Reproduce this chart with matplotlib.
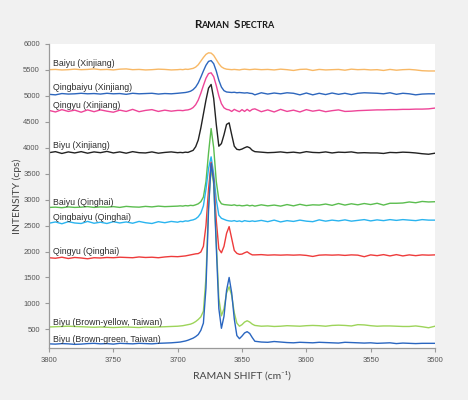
import numpy as np
import matplotlib
matplotlib.use("Agg")
import matplotlib.pyplot as plt
from matplotlib.offsetbox import TextArea, HPacker, AnchoredOffsetbox


# ------------------ DATA ------------------ #

# wavenumber grid: 5 cm-1 steps on the flat parts, 2 cm-1 steps around the OH peaks
shift = np.concatenate([np.arange(3800, 3699, -5), np.arange(3698, 3641, -2), np.arange(3640, 3499, -5)])

baiyu_xj = [5505, 5510, 5500, 5505, 5515, 5505, 5510, 5520, 5505, 5510, 5500, 5515, 5520, 5505, 5510, 5500, 5505, 5515, 5510, 5500, 5505,
            5510, 5505, 5515, 5510, 5520, 5530, 5555, 5600, 5670, 5740, 5800, 5830, 5825, 5780, 5700, 5620, 5560, 5530, 5515, 5510, 5505, 5510, 5505, 5500, 5510, 5515, 5510, 5505, 5510,
            5515, 5505, 5510, 5500, 5515, 5505, 5490, 5510, 5515, 5490, 5510, 5500, 5505, 5510, 5495, 5515, 5505, 5510, 5500, 5505, 5490, 5510, 5495, 5505, 5510, 5500, 5485, 5480, 5480]

qingbaiyu_xj = [5030, 5020, 5045, 5035, 5040, 5050, 5040, 5045, 5035, 5050, 5040, 5045, 5030, 5050, 5040, 5045, 5050, 5035, 5045, 5040, 5050,
                5055, 5060, 5065, 5075, 5090, 5120, 5170, 5250, 5360, 5480, 5590, 5665, 5680, 5620, 5480, 5300, 5170, 5100, 5075, 5070, 5065, 5070, 5060, 5065, 5060, 5055, 5060, 5050, 5045,
                5020, 5060, 5035, 5055, 5040, 5060, 5050, 5020, 5055, 5020, 5050, 5025, 5055, 5030, 5050, 5025, 5050, 5060, 5055, 5050, 5040, 5060, 5030, 5050, 5040, 5020, 5035, 5040, 5040]

qingyu_xj = [4720, 4690, 4735, 4700, 4725, 4685, 4730, 4695, 4730, 4705, 4685, 4725, 4700, 4740, 4695, 4720, 4735, 4700, 4725, 4705, 4720,
             4720, 4715, 4725, 4730, 4745, 4775, 4830, 4920, 5050, 5200, 5340, 5430, 5445, 5370, 5200, 5000, 4850, 4770, 4740, 4730, 4700, 4740, 4715, 4695, 4735, 4700, 4740, 4705, 4740,
             4750, 4695, 4730, 4690, 4740, 4700, 4725, 4690, 4735, 4705, 4725, 4695, 4715, 4730, 4700, 4705, 4715, 4720, 4725, 4730, 4730, 4735, 4735, 4740, 4740, 4745, 4745, 4750, 4765]

biyu_xj = [3905, 3925, 3890, 3920, 3900, 3925, 3895, 3920, 3905, 3930, 3900, 3920, 3895, 3925, 3905, 3900, 3920, 3895, 3910, 3920, 3905,
           3910, 3905, 3915, 3910, 3930, 3950, 4020, 4150, 4380, 4650, 4920, 5150, 5220, 4950, 4450, 4030, 4080, 4250, 4450, 4480, 4250, 4030, 3970, 3960, 3975, 4000, 4020, 4000, 3950,
           3925, 3915, 3905, 3910, 3920, 3905, 3915, 3900, 3925, 3910, 3905, 3920, 3900, 3915, 3910, 3920, 3900, 3905, 3900, 3900, 3890, 3910, 3905, 3915, 3910, 3900, 3885, 3875, 3895]

baiyu_qh = [2850, 2855, 2845, 2860, 2850, 2855, 2865, 2850, 2860, 2855, 2865, 2850, 2870, 2860, 2855, 2870, 2860, 2875, 2865, 2870, 2875,
            2880, 2875, 2885, 2880, 2890, 2885, 2900, 2920, 2960, 3050, 3350, 3900, 4370, 4000, 3350, 3000, 2920, 2905, 2900, 2895, 2890, 2900, 2885, 2890, 2880, 2885, 2895, 2880, 2890,
            2875, 2900, 2880, 2895, 2875, 2905, 2880, 2910, 2885, 2900, 2895, 2915, 2890, 2925, 2895, 2920, 2900, 2925, 2905, 2930, 2895, 2930, 2930, 2935, 2955, 2940, 2965, 2955, 2960]

qingbaiyu_qh = [2545, 2570, 2535, 2575, 2550, 2540, 2580, 2545, 2565, 2540, 2575, 2550, 2570, 2545, 2580, 2555, 2540, 2575, 2555, 2580, 2565,
                2580, 2575, 2590, 2585, 2600, 2610, 2630, 2670, 2740, 2880, 3200, 3600, 3825, 3500, 3000, 2700, 2640, 2620, 2600, 2590, 2585, 2595, 2580, 2590, 2575, 2595, 2585, 2580, 2590,
                2580, 2600, 2575, 2605, 2570, 2595, 2580, 2605, 2585, 2575, 2610, 2585, 2605, 2590, 2610, 2585, 2600, 2615, 2590, 2610, 2595, 2615, 2600, 2615, 2605, 2595, 2615, 2605, 2605]

qingyu_qh = [1880, 1870, 1890, 1865, 1885, 1875, 1860, 1880, 1875, 1885, 1880, 1890, 1885, 1880, 1895, 1885, 1890, 1880, 1895, 1905, 1900,
             1905, 1910, 1915, 1925, 1935, 1945, 1955, 1960, 1990, 2100, 2500, 3200, 3720, 3400, 2600, 2050, 1975, 2100, 2350, 2480, 2250, 2020, 1965, 1945, 1950, 1975, 1995, 1960, 1935,
             1935, 1940, 1930, 1935, 1930, 1935, 1930, 1935, 1925, 1905, 1930, 1935, 1930, 1935, 1925, 1935, 1930, 1900, 1935, 1920, 1940, 1915, 1940, 1915, 1935, 1920, 1935, 1930, 1935]

biyu_by_tw = [545, 550, 555, 560, 555, 550, 545, 540, 545, 540, 535, 540, 545, 540, 535, 545, 540, 545, 550, 555, 560,
              565, 570, 580, 590, 600, 620, 650, 690, 740, 850, 1500, 2900, 3600, 3300, 2200, 1100, 760, 900, 1200, 1320, 1150, 820, 620, 560, 590, 640, 665, 640, 600,
              575, 560, 565, 555, 560, 570, 565, 560, 570, 575, 570, 560, 575, 580, 575, 565, 590, 585, 570, 560, 565, 565, 560, 555, 555, 565, 550, 530, 560]

biyu_bg_tw = [220, 215, 225, 220, 210, 215, 225, 230, 220, 225, 215, 230, 225, 220, 230, 225, 220, 230, 235, 240, 250,
              255, 265, 275, 290, 310, 330, 360, 400, 480, 620, 1300, 2800, 3700, 3350, 2100, 900, 520, 750, 1250, 1500, 1200, 700, 380, 320, 370, 430, 455, 420, 340,
              270, 255, 250, 265, 255, 245, 240, 250, 245, 240, 250, 245, 240, 235, 250, 245, 240, 235, 240, 230, 235, 240, 225, 235, 230, 225, 230, 230, 230]

names = ["Baiyu (Xinjiang)", "Qingbaiyu (Xinjiang)", "Qingyu (Xinjiang)", "Biyu (Xinjiang)",
         "Baiyu (Qinghai)", "Qingbaiyu (Qinghai)", "Qingyu (Qinghai)",
         "Biyu (Brown-yellow, Taiwan)", "Biyu (Brown-green, Taiwan)"]
spectra = [baiyu_xj, qingbaiyu_xj, qingyu_xj, biyu_xj, baiyu_qh, qingbaiyu_qh, qingyu_qh, biyu_by_tw, biyu_bg_tw]
label_y = [5615, 5170, 4824, 4034, 2950, 2660, 1997, 630, 310]

colors = ["#f8b865", "#2d66bd", "#ee4598", "#222222", "#5bbd4f", "#2ab4ef", "#ee3b3b", "#9dd45a", "#2a66c0"]


# ------------------ FIGURE ------------------ #

bg = "#f1f1f1"
fig = plt.figure(figsize=(4.68, 4.0), dpi=100, facecolor=bg)
ax = fig.add_axes([49/468, 1 - 348/400, 386/468, 304/400])
ax.set_facecolor("white")

for name, y, c in zip(names, spectra, colors):
    ax.plot(shift, y, color=c, linewidth=1.0)

for name, ly in zip(names, label_y):
    ax.text(3797, ly, name, fontsize=6.3, color="#2e2e2e", family="Liberation Sans", va="center", ha="left")

ax.set_xlim(3800, 3500)
ax.set_ylim(140, 6000)
ax.set_xticks(np.arange(3800, 3499, -50))
ax.set_yticks(np.arange(500, 6001, 500))

for s in ["top", "right"]:
    ax.spines[s].set_visible(False)
for s in ["left", "bottom"]:
    ax.spines[s].set_color("#9a9a9a")
    ax.spines[s].set_linewidth(0.9)
ax.tick_params(axis="both", colors="#9a9a9a", labelcolor="#555555", labelsize=5.5, length=3, width=0.8)
for lbl in ax.get_xticklabels() + ax.get_yticklabels():
    lbl.set_family("Liberation Sans")

ax.set_xlabel("RAMAN SHIFT (cm⁻¹)", fontsize=7.5, color="#444444", family=["Lato", "DejaVu Sans"], labelpad=5)
ax.set_ylabel("INTENSITY (cps)", fontsize=7.5, color="#444444", family=["Lato", "DejaVu Sans"], labelpad=1)

# small-caps title
def sc_word(big, small):
    kw = dict(fontweight="bold", family="Lato", color="#1a1a1a")
    return HPacker(children=[TextArea(big, textprops=dict(fontsize=8.4, **kw)),
                             TextArea(small, textprops=dict(fontsize=6.5, **kw))],
                   align="baseline", pad=0, sep=0)

title = HPacker(children=[sc_word("R", "AMAN"), sc_word("S", "PECTRA")], align="baseline", pad=0, sep=3)
anchor = AnchoredOffsetbox(loc="center", child=title, frameon=False, pad=0, borderpad=0,
                           bbox_to_anchor=(0.5, 1 - 24.5/400), bbox_transform=fig.transFigure)
fig.add_artist(anchor)

fig.savefig("out.png", dpi=100, facecolor=bg)
